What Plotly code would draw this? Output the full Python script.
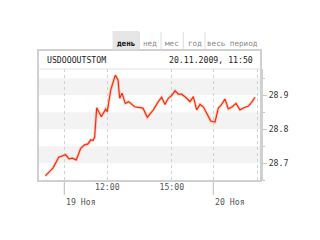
import plotly.graph_objects as go

# time axis: hours since 19 Nov 10:00 on a compressed (trading-session) scale
times = [-0.884, -0.526, -0.26, 0.019, 0.065, 0.219, 0.372, 0.558, 0.763, 0.949,
         1.10, 1.228, 1.335, 1.41, 1.507, 1.72, 1.926, 2.0, 2.158, 2.372,
         2.498, 2.577, 2.684, 2.837, 2.995, 3.274, 3.66, 3.86, 4.14, 4.372,
         4.53, 4.684, 4.837, 4.995, 5.149, 5.302, 5.46, 5.693, 5.847, 6.0,
         6.158, 6.312, 6.465, 6.623, 6.81, 7.01, 7.163, 7.321, 7.474, 7.628,
         7.814, 7.986, 8.172, 8.358, 8.558, 8.716, 8.87]
rates = [28.663, 28.686, 28.718, 28.723, 28.725, 28.713, 28.715, 28.710, 28.744, 28.754,
         28.757, 28.769, 28.767, 28.777, 28.863, 28.837, 28.859, 28.852, 28.915, 28.959,
         28.945, 28.891, 28.906, 28.876, 28.881, 28.866, 28.862, 28.835, 28.857, 28.881,
         28.894, 28.873, 28.891, 28.899, 28.913, 28.903, 28.903, 28.891, 28.881, 28.896,
         28.857, 28.873, 28.866, 28.847, 28.824, 28.821, 28.862, 28.873, 28.889, 28.860,
         28.866, 28.876, 28.857, 28.863, 28.868, 28.879, 28.894]

grid_x = [0, 2, 5, 6.93, 9]
hour_ticks = [2, 5]
hour_labels = ["12:00", "15:00"]
day_ticks = [0, 6.93]
day_labels = ["19 Ноя", "20 Ноя"]
y_ticks = [28.7, 28.8, 28.9]
bands = [(28.9, 28.95), (28.8, 28.85), (28.7, 28.75)]
tabs = ["день", "нед", "мес", "год", "весь период"]
tab_centers = [125.5, 150, 172, 194.5, 232.5]
tab_separators = [139.3, 161, 183.3, 205]
ticker = "USDOOOUTSTOM"
stamp = "20.11.2009, 11:50"

FONT = "DejaVu Sans Mono"
L, R, T, B = 38, 59, 69, 59
W, H = 320, 240
PW, PH = W - L - R, H - T - B


def px(x):
    return (x - L) / PW


def py(y):
    return (H - B - y) / PH


fig = go.Figure()
fig.add_trace(go.Scatter(x=times, y=rates, mode="lines",
                         line=dict(color="rgba(255,120,100,0.3)", width=3),
                         hoverinfo="skip", showlegend=False))
fig.add_trace(go.Scatter(x=times, y=rates, mode="lines",
                         line=dict(color="#ff2a00", width=1.2),
                         showlegend=False))

shapes = []
for lo, hi in bands:
    shapes.append(dict(type="rect", xref="paper", yref="y", x0=0, x1=1, y0=lo, y1=hi,
                       fillcolor="#f3f3f3", line=dict(width=0), layer="below"))
# frame incl. header
shapes.append(dict(type="rect", xref="paper", yref="paper", x0=0, x1=1, y0=0, y1=py(50),
                   line=dict(color="#d0d0d0", width=2), fillcolor="rgba(0,0,0,0)"))
shapes.append(dict(type="line", xref="paper", yref="paper", x0=0, x1=1, y0=1, y1=1,
                   line=dict(color="#e2e2e2", width=1)))
# selected tab background
shapes.append(dict(type="rect", xref="paper", yref="paper", x0=px(112.5), x1=px(139),
                   y0=py(49.5), y1=py(31), fillcolor="#e6e6e6", line=dict(width=0)))
for s in tab_separators:
    shapes.append(dict(type="line", xref="paper", yref="paper", x0=px(s), x1=px(s),
                       y0=py(49.5), y1=py(32), line=dict(color="#dddddd", width=1)))
for d in day_ticks:
    shapes.append(dict(type="line", xref="x", yref="paper", x0=d, x1=d,
                       y0=py(181.5), y1=py(195), line=dict(color="#bbbbbb", width=1)))

ann = []
for i, (t, c) in enumerate(zip(tabs, tab_centers)):
    ann.append(dict(text=("<b>%s</b>" % t) if i == 0 else t, x=px(c), y=py(43.5),
                    xref="paper", yref="paper", showarrow=False, xanchor="center",
                    yanchor="middle",
                    font=dict(family=FONT, size=7.6, color="#111" if i == 0 else "#8a8a8a")))
ann.append(dict(text=ticker, x=px(45), y=py(60), xref="paper", yref="paper",
                showarrow=False, xanchor="left", yanchor="middle",
                font=dict(family=FONT, size=8.2, color="#222")))
ann.append(dict(text=stamp, x=px(255), y=py(60), xref="paper", yref="paper",
                showarrow=False, xanchor="right", yanchor="middle",
                font=dict(family=FONT, size=8.2, color="#222")))
for d, lab in zip(day_ticks, day_labels):
    ann.append(dict(text=lab, x=d, y=py(202), xref="x", yref="paper", showarrow=False,
                    xanchor="left", yanchor="middle", xshift=0,
                    font=dict(family=FONT, size=8.2, color="#555")))

grid_text = [hour_labels[hour_ticks.index(g)] if g in hour_ticks else "" for g in grid_x]

fig.update_layout(
    width=W, height=H, margin=dict(l=L, r=R, t=T, b=B),
    paper_bgcolor="white", plot_bgcolor="white",
    shapes=shapes, annotations=ann, showlegend=False,
    xaxis=dict(range=[(L - 64.3) / 21.5, (W - R - 64.3) / 21.5],
               tickvals=grid_x, ticktext=grid_text, ticks="",
               showgrid=True, gridcolor="#d2d2d2", griddash="dot", gridwidth=1,
               showline=False, zeroline=False,
               tickfont=dict(family=FONT, size=8.2, color="#555")),
    yaxis=dict(range=[28.648, 28.977], side="right", tickvals=y_ticks,
               ticktext=[f"{v:.1f}" for v in y_ticks],
               ticks="outside", ticklen=4, tickcolor="#c8c8c8",
               minor=dict(dtick=0.05, ticks="outside", ticklen=2, tickcolor="#c8c8c8"),
               showgrid=False, zeroline=False, showline=True, linecolor="#d0d0d0",
               linewidth=2,
               tickfont=dict(family=FONT, size=8.2, color="#333")),
)

fig.write_html("out.html")
